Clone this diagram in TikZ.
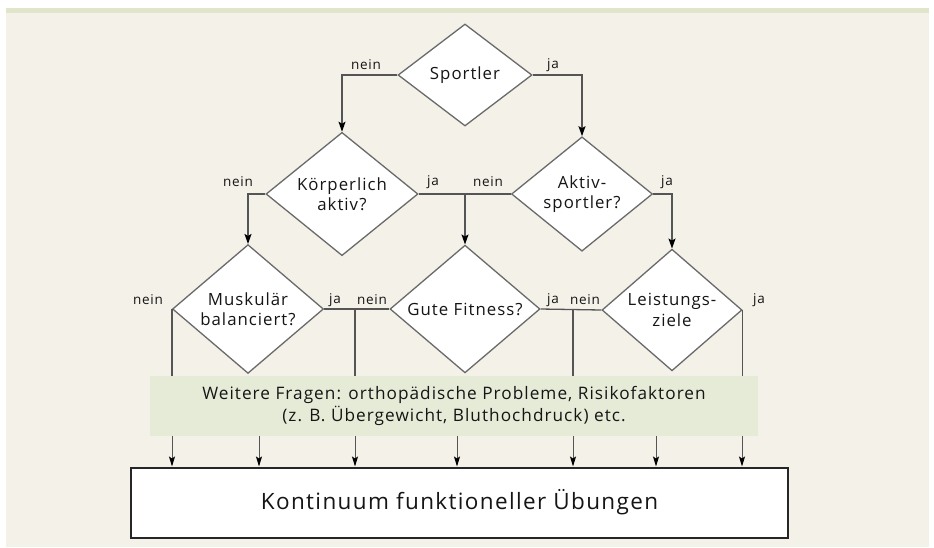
\documentclass[tikz,border=0pt]{standalone}
\usepackage{fontspec}
\setmainfont{Open Sans}[LetterSpace=6]
\usetikzlibrary{shapes.geometric,arrows.meta}
\definecolor{bg}{HTML}{F4F1E9}
\definecolor{strip}{HTML}{E1E6CB}
\definecolor{boxgreen}{HTML}{E6EBD8}
\definecolor{ln}{HTML}{555555}
\definecolor{dl}{HTML}{6A6A6A}
\definecolor{txt}{HTML}{151515}
\begin{document}
\begin{tikzpicture}[x=1pt,y=-1pt,
  dia/.style={shape=diamond, draw=dl, line width=1.3pt, fill=white, inner sep=0pt,
    align=center, text=txt, font=\fontsize{16.8}{20.5}\selectfont},
  lab/.style={text=txt, font=\fontsize{13.5}{15}\selectfont, inner sep=0pt},
  conn/.style={draw=ln, line width=1.3pt},
  arr/.style={draw=ln, line width=1.3pt, -{Stealth[length=10pt,width=7pt,inset=2pt,black]}},
  thinarr/.style={draw=ln, line width=1pt, -{Stealth[length=10pt,width=6pt,inset=2pt,black]}},
  gbox/.style={fill=boxgreen, inner sep=0pt, align=center, text=txt,
    font=\fontsize{17.2}{22.5}\selectfont},
  kbox/.style={draw=black!85, line width=2pt, fill=white, inner sep=0pt, text=txt,
    font=\fontsize{22.5}{26}\selectfont}]
\useasboundingbox (0,0) rectangle (934,547);
\fill[white] (0,0) rectangle (934,547);
\fill[bg] (6,8) rectangle (929,547);
\fill[strip] (6,8) rectangle (929,13);

% diamonds
\node[dia, minimum width=134, minimum height=102] (sp) at (465,75) {Sportler};
\node[dia, minimum width=152, minimum height=122] (kp) at (342,194) {Körperlich\\aktiv?};
\node[dia, minimum width=141, minimum height=114] (as) at (582,194) {Aktiv-\\sportler?};
\node[dia, minimum width=151, minimum height=121] (mb) at (248,309) {Muskulär\\balanciert?};
\node[dia, minimum width=150, minimum height=122] (gf) at (465,309) {Gute Fitness?};
\node[dia, minimum width=140, minimum height=114] (lz) at (672,310) {Leistungs-\\ziele};

% bottom box
\node[kbox, minimum width=657, minimum height=70] (kb) at (459.5,502.5) {Kontinuum funktioneller Übungen};

% connectors level 1
\draw[arr] (sp.west) -| (kp.north);
\draw[arr] (sp.east) -| (as.north);
% level 2
\draw[arr] (kp.west) -| (mb.north);
\draw[conn] (kp.east) -- (as.west);
\draw[arr] (kp.east -| gf.north) -- (gf.north);
\draw[arr] (as.east) -| (lz.north);
% level 3
\coordinate (b2) at (355,309);
\coordinate (b4) at (573,309);
\coordinate (gtop) at (454,378);
\draw[conn] (mb.east) -- (gf.west);
\draw[conn] (gf.east) -- (lz.west);
\draw[conn] (mb.west) -- (mb.west |- gtop);
\draw[conn] (b2) -- (b2 |- gtop);
\draw[conn] (b4) -- (b4 |- gtop);
\draw[conn] (lz.east) -- (lz.east |- gtop);

% green box (drawn over the lines)
\node[gbox, minimum width=608, minimum height=60] (gb) at (454,406)
  {Weitere Fragen: orthopädische Probleme, Risikofaktoren\\(z. B. Übergewicht, Bluthochdruck) etc.};

% arrows to bottom box
\foreach \x [count=\i] in {172,259,355,457,573,656,742}{
  \coordinate (t\i) at (\x,0);
  \draw[thinarr] (gb.south -| t\i) -- (kb.north -| t\i);
}

% labels
\node[lab] at (366,65) {nein};
\node[lab] at (553,65) {ja};
\node[lab] at (238,182) {nein};
\node[lab] at (433,182) {ja};
\node[lab] at (488,182) {nein};
\node[lab] at (667,182) {ja};
\node[lab] at (148,300) {nein};
\node[lab] at (335,300) {ja};
\node[lab] at (372,300) {nein};
\node[lab] at (553,300) {ja};
\node[lab] at (585,300) {nein};
\node[lab] at (759,300) {ja};
\end{tikzpicture}
\end{document}
